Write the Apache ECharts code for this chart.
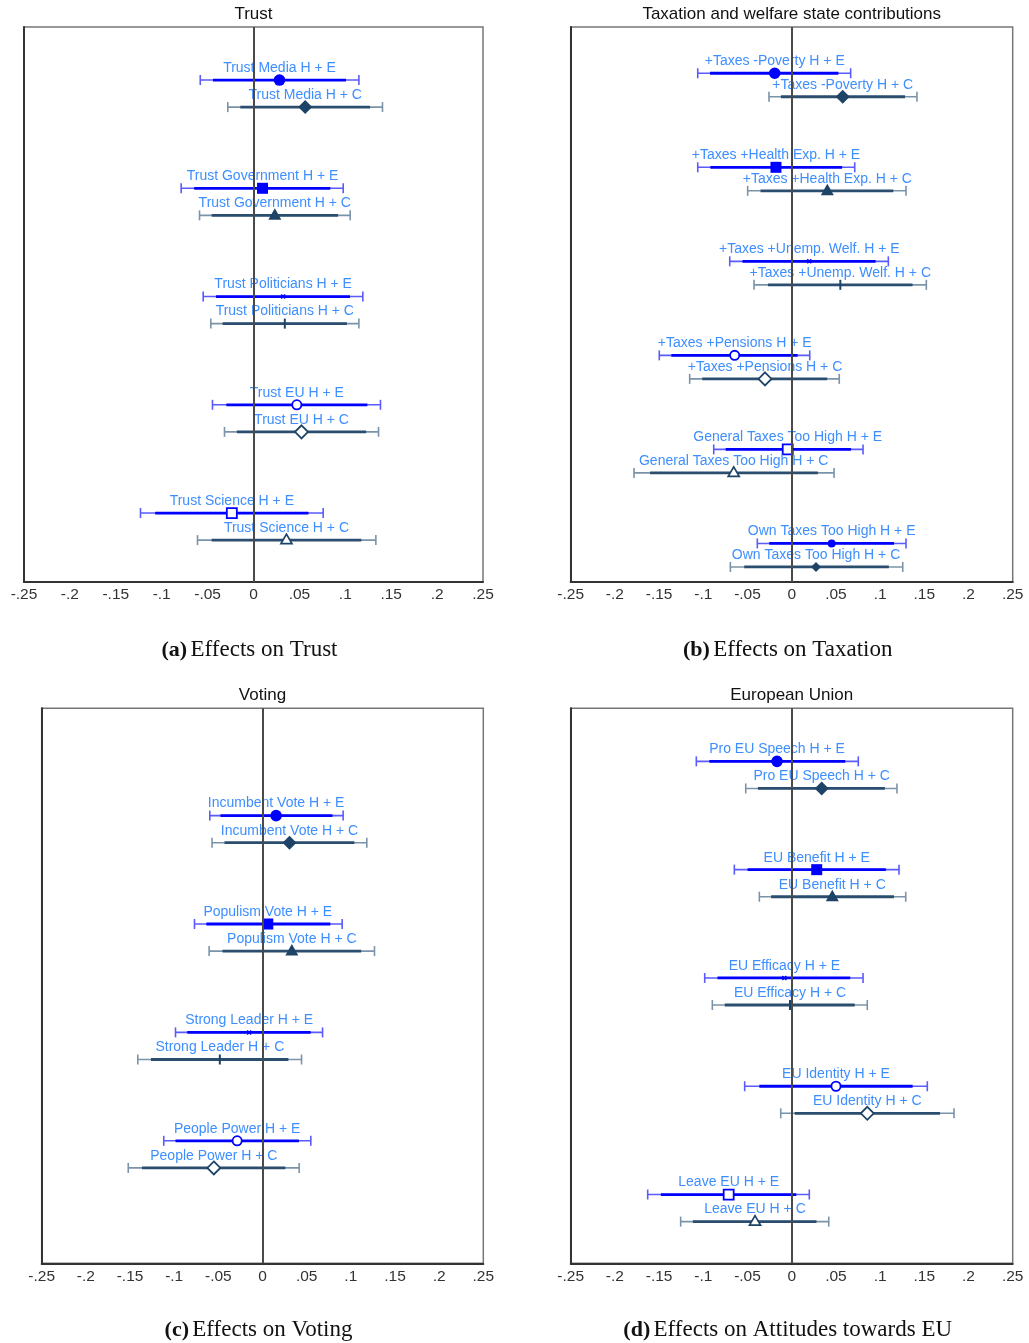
<!DOCTYPE html>
<html>
<head>
<meta charset="utf-8">
<title>Treatment effects</title>
<script src="https://cdn.jsdelivr.net/npm/echarts@6/dist/echarts.min.js"></script>
<style>
  html, body { margin: 0; padding: 0; background: #fff; }
  #chart { width: 1029px; height: 1343px; }
</style>
</head>
<body>
<div id="chart"></div>
<script>
// Each row: [lo95, lo90, estimate, hi90, hi95]
const xTicks = [-0.25, -0.2, -0.15, -0.1, -0.05, 0, 0.05, 0.1, 0.15, 0.2, 0.25];

const trustTopics = ['Trust Media', 'Trust Government', 'Trust Politicians', 'Trust EU', 'Trust Science'];
const trustE = [
  [-0.058, -0.0441, 0.0283, 0.1007, 0.1148],
  [-0.0788, -0.0646, 0.0098, 0.0836, 0.0977],
  [-0.0548, -0.0409, 0.0323, 0.1051, 0.1191],
  [-0.0447, -0.0296, 0.0472, 0.124, 0.1383],
  [-0.1231, -0.1071, -0.0236, 0.0599, 0.0759]
];
const trustC = [
  [-0.028, -0.0144, 0.0563, 0.127, 0.1405],
  [-0.0588, -0.0456, 0.0232, 0.0921, 0.1053],
  [-0.0465, -0.0336, 0.0341, 0.1018, 0.1148],
  [-0.0316, -0.0181, 0.0523, 0.1227, 0.1362],
  [-0.061, -0.0456, 0.0359, 0.1174, 0.1333]
];

const taxTopics = ['+Taxes -Poverty', '+Taxes +Health Exp.', '+Taxes +Unemp. Welf.',
  '+Taxes +Pensions', 'General Taxes Too High', 'Own Taxes Too High'];
const taxE = [
  [-0.1063, -0.0924, -0.0192, 0.0528, 0.0667],
  [-0.1063, -0.092, -0.0178, 0.057, 0.0713],
  [-0.0701, -0.0557, 0.0199, 0.0949, 0.1093],
  [-0.1498, -0.1361, -0.0645, 0.0067, 0.0204],
  [-0.0882, -0.0747, -0.0045, 0.0671, 0.0807],
  [-0.0389, -0.0254, 0.0452, 0.1158, 0.1293]
];
const taxC = [
  [-0.0257, -0.0122, 0.0577, 0.1282, 0.1417],
  [-0.0498, -0.0353, 0.0403, 0.1149, 0.1293],
  [-0.0426, -0.0269, 0.055, 0.1367, 0.1523],
  [-0.1154, -0.1012, -0.0302, 0.0402, 0.0538],
  [-0.1784, -0.1602, -0.0656, 0.0296, 0.0479],
  [-0.0694, -0.0537, 0.0275, 0.1099, 0.1256]
];

const voteTopics = ['Incumbent Vote', 'Populism Vote', 'Strong Leader', 'People Power'];
const voteE = [
  [-0.0597, -0.0476, 0.0154, 0.0792, 0.0913],
  [-0.077, -0.0636, 0.006, 0.0768, 0.0902],
  [-0.0985, -0.0852, -0.0151, 0.0546, 0.068],
  [-0.1118, -0.0985, -0.0287, 0.0413, 0.0547]
];
const voteC = [
  [-0.0571, -0.043, 0.0306, 0.104, 0.1181],
  [-0.0604, -0.0453, 0.0332, 0.1117, 0.1268],
  [-0.1412, -0.1263, -0.0483, 0.0293, 0.0442],
  [-0.152, -0.1365, -0.0551, 0.0259, 0.0415]
];

const euTopics = ['Pro EU Speech', 'EU Benefit', 'EU Efficacy', 'EU Identity', 'Leave EU'];
const euE = [
  [-0.1079, -0.0932, -0.0166, 0.0606, 0.0753],
  [-0.0649, -0.0499, 0.0283, 0.1065, 0.1214],
  [-0.0984, -0.084, -0.0083, 0.0662, 0.0807],
  [-0.0532, -0.0366, 0.0501, 0.1368, 0.1534],
  [-0.1629, -0.148, -0.0713, 0.0052, 0.0199]
];
const euC = [
  [-0.052, -0.0382, 0.0339, 0.1054, 0.1191],
  [-0.0366, -0.0233, 0.0459, 0.1157, 0.129],
  [-0.0898, -0.0757, -0.0019, 0.0713, 0.0855],
  [-0.0124, 0.0034, 0.0855, 0.1678, 0.1836],
  [-0.1256, -0.1118, -0.0415, 0.028, 0.0419]
];

// Panel layout: plot box in pixels plus the vertical extent in row units
const panels = [
  { title: 'Trust', tag: '(a)', caption: 'Effects on Trust', topics: trustTopics, e: trustE, c: trustC,
    box: { left: 24, top: 27, width: 459, height: 555 }, yMin: -0.49, yMax: 4.637, capY: 650 },
  { title: 'Taxation and welfare state contributions', tag: '(b)', caption: 'Effects on Taxation', topics: taxTopics, e: taxE, c: taxC,
    box: { left: 570.7, top: 27, width: 442, height: 555 }, yMin: -0.492, yMax: 5.41, capY: 650 },
  { title: 'Voting', tag: '(c)', caption: 'Effects on Voting', topics: voteTopics, e: voteE, c: voteC,
    box: { left: 41.7, top: 708.3, width: 441.6, height: 555 }, yMin: -0.99, yMax: 4.13, capY: 1330 },
  { title: 'European Union', tag: '(d)', caption: 'Effects on Attitudes towards EU', topics: euTopics, e: euE, c: euC,
    box: { left: 570.7, top: 708.3, width: 442, height: 555 }, yMin: -0.49, yMax: 4.635, capY: 1330 }
];

const styleE = { inner: '#0000ff', outer: '#5a5aff', mark: '#0000ff',
  shapes: ['circle', 'square', 'x', 'circleHollow', 'squareHollow', 'smallCircle'], suffix: ' H + E' };
const styleC = { inner: '#2b4e6e', outer: '#7b93a8', mark: '#1d4466',
  shapes: ['diamond', 'triangle', 'tick', 'diamondHollow', 'triangleHollow', 'smallDiamond'], suffix: ' H + C' };

const LABEL_COLOR = '#3d8eff';
const SANS = '"Liberation Sans", Arial, sans-serif';
const SERIF = '"Liberation Serif", "DejaVu Serif", serif';

function markerShape(kind, x, y, col) {
  switch (kind) {
    case 'circle':
      return { type: 'circle', shape: { cx: x, cy: y, r: 5.8 }, style: { fill: col } };
    case 'smallCircle':
      return { type: 'circle', shape: { cx: x, cy: y, r: 4 }, style: { fill: col } };
    case 'square':
      return { type: 'rect', shape: { x: x - 5.5, y: y - 5.5, width: 11, height: 11 }, style: { fill: col } };
    case 'circleHollow':
      return { type: 'circle', shape: { cx: x, cy: y, r: 4.6 }, style: { fill: '#fff', stroke: col, lineWidth: 1.8 } };
    case 'squareHollow':
      return { type: 'rect', shape: { x: x - 5, y: y - 5, width: 10, height: 10 }, style: { fill: '#fff', stroke: col, lineWidth: 1.8 } };
    case 'x':
      return { type: 'group', children: [
        { type: 'line', shape: { x1: x - 2, y1: y - 2, x2: x + 2, y2: y + 2 }, style: { stroke: col, lineWidth: 1.5 } },
        { type: 'line', shape: { x1: x - 2, y1: y + 2, x2: x + 2, y2: y - 2 }, style: { stroke: col, lineWidth: 1.5 } }
      ] };
    case 'tick':
      return { type: 'line', shape: { x1: x, y1: y - 5, x2: x, y2: y + 5 }, style: { stroke: col, lineWidth: 2 } };
    case 'diamond':
      return { type: 'polygon', shape: { points: [[x, y - 7], [x + 7, y], [x, y + 7], [x - 7, y]] }, style: { fill: col } };
    case 'smallDiamond':
      return { type: 'polygon', shape: { points: [[x, y - 5], [x + 5, y], [x, y + 5], [x - 5, y]] }, style: { fill: col } };
    case 'diamondHollow':
      return { type: 'polygon', shape: { points: [[x, y - 6.5], [x + 6.5, y], [x, y + 6.5], [x - 6.5, y]] }, style: { fill: '#fff', stroke: col, lineWidth: 1.8 } };
    case 'triangle':
      return { type: 'polygon', shape: { points: [[x, y - 7], [x + 6.5, y + 4.5], [x - 6.5, y + 4.5]] }, style: { fill: col } };
    case 'triangleHollow':
      return { type: 'polygon', shape: { points: [[x, y - 6], [x + 5.5, y + 3.5], [x - 5.5, y + 3.5]] }, style: { fill: '#fff', stroke: col, lineWidth: 1.7 } };
  }
  return null;
}

function makeRender(topics, st) {
  return function (params, api) {
    const est = api.value(0), yv = api.value(1);
    const lo95 = api.value(2), lo90 = api.value(3), hi90 = api.value(4), hi95 = api.value(5);
    const idx = api.value(6);
    const p = api.coord([est, yv]);
    const y = p[1];
    const xa = api.coord([lo95, yv])[0], xb = api.coord([hi95, yv])[0];
    const xc = api.coord([lo90, yv])[0], xd = api.coord([hi90, yv])[0];
    const children = [
      { type: 'line', shape: { x1: xa, y1: y, x2: xb, y2: y }, style: { stroke: st.outer, lineWidth: 1.6 } },
      { type: 'line', shape: { x1: xa, y1: y - 5, x2: xa, y2: y + 5 }, style: { stroke: st.outer, lineWidth: 1.6 } },
      { type: 'line', shape: { x1: xb, y1: y - 5, x2: xb, y2: y + 5 }, style: { stroke: st.outer, lineWidth: 1.6 } },
      { type: 'line', shape: { x1: xc, y1: y, x2: xd, y2: y }, style: { stroke: st.inner, lineWidth: 2.8 } },
      markerShape(st.shapes[idx], p[0], y, st.mark),
      { type: 'text', x: p[0], y: y - 12,
        style: { text: topics[idx] + st.suffix, fill: LABEL_COLOR, font: '14px ' + SANS,
                 textAlign: 'center', textVerticalAlign: 'middle' } }
    ];
    return { type: 'group', children: children };
  };
}

function tickText(v) {
  const r = +v.toFixed(2);
  if (r === 0) return '0';
  return (r < 0 ? '-' : '') + String(Math.abs(r)).replace(/^0/, '');
}

const grids = [], xAxes = [], yAxes = [], series = [], graphics = [];

panels.forEach(function (pn, gi) {
  grids.push({ left: pn.box.left, top: pn.box.top, width: pn.box.width, height: pn.box.height,
    show: true, borderColor: '#777', borderWidth: 1.5, backgroundColor: '#fff' });
  xAxes.push({ gridIndex: gi, type: 'value', min: xTicks[0], max: xTicks[xTicks.length - 1], interval: 0.05,
    axisLine: { show: true, onZero: false, lineStyle: { color: '#333', width: 2 } },
    axisTick: { show: false }, splitLine: { show: false },
    axisLabel: { formatter: tickText, color: '#333', fontSize: 15.5, fontFamily: SANS, margin: 5,
      showMinLabel: true, showMaxLabel: true } });
  yAxes.push({ gridIndex: gi, type: 'value', inverse: true, min: pn.yMin, max: pn.yMax,
    axisLine: { show: true, onZero: false, lineStyle: { color: '#333', width: 2 } },
    axisTick: { show: false }, axisLabel: { show: false }, splitLine: { show: false } });

  [[pn.e, styleE, 0], [pn.c, styleC, 0.25]].forEach(function (set) {
    const rows = set[0], st = set[1], offset = set[2];
    series.push({
      type: 'custom', xAxisIndex: gi, yAxisIndex: gi, z: 3,
      renderItem: makeRender(pn.topics, st),
      encode: { x: 0, y: 1 },
      data: rows.map(function (r, i) { return [r[2], i + offset, r[0], r[1], r[3], r[4], i]; }),
      silent: true, animation: false
    });
  });

  // vertical reference line at zero
  series.push({
    type: 'scatter', xAxisIndex: gi, yAxisIndex: gi, data: [], z: 10, silent: true, animation: false,
    markLine: { silent: true, symbol: 'none', label: { show: false }, animation: false,
      lineStyle: { color: '#4a4a4a', width: 2, type: 'solid' }, data: [{ xAxis: 0 }] }
  });

  graphics.push({ type: 'text', x: pn.box.left + pn.box.width / 2, y: pn.box.top - 13,
    style: { text: pn.title, fill: '#111', font: '17px ' + SANS, textAlign: 'center', textVerticalAlign: 'middle' } });
  graphics.push({ type: 'text', x: pn.box.left + pn.box.width / 2 - 4, y: pn.capY,
    style: { text: '{b|' + pn.tag + '} {n|' + pn.caption + '}', textAlign: 'center', textVerticalAlign: 'middle',
      rich: {
        b: { font: 'bold 22px ' + SERIF, fill: '#111' },
        n: { font: '23px ' + SERIF, fill: '#111' }
      } } });
});

const chart = echarts.init(document.getElementById('chart'), null, { renderer: 'canvas' });
chart.setOption({
  animation: false,
  backgroundColor: '#fff',
  grid: grids, xAxis: xAxes, yAxis: yAxes, series: series, graphic: graphics
});
</script>
</body>
</html>
